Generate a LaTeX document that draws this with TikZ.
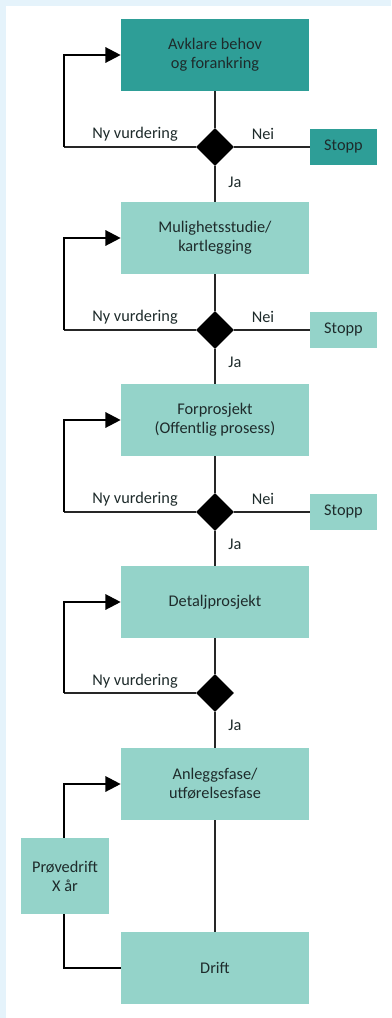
\documentclass[tikz,border=0pt]{standalone}
\usepackage{fontspec}
\setmainfont{Carlito}
\usepackage{xcolor}
\usetikzlibrary{arrows.meta,shapes.geometric}
\definecolor{fasDark}{HTML}{2E9E97}
\definecolor{fasLight}{HTML}{94D3C9}
\definecolor{fasInk}{HTML}{1E2B2B}
\definecolor{fasFrame}{HTML}{E5F3FB}
\tikzset{
    every picture/.style={font=\fontsize{11.6}{13.5}\selectfont},
    phase/.style={fill=fasLight, draw=none, align=center, text=fasInk, minimum width=4.7cm, minimum height=1.8cm, inner sep=0pt},
    phasetop/.style={phase, fill=fasDark},
    stopbox/.style={fill=fasLight, draw=none, text=fasInk, minimum width=1.675cm, minimum height=0.9cm, inner sep=0pt},
    stopboxtop/.style={stopbox, fill=fasDark},
    testbox/.style={fill=fasLight, draw=none, align=center, text=fasInk, minimum width=2.2cm, minimum height=1.9cm, inner sep=0pt},
    gate/.style={diamond, fill=black, draw=none, minimum width=0.95cm, minimum height=0.95cm, inner sep=0pt},
    lbl/.style={text=fasInk, inner sep=1pt},
    link/.style={line width=1pt, draw=black!85},
    loop/.style={line width=1.6pt, draw=black},
    looparrow/.style={loop, -{Triangle[length=0.38cm, width=0.38cm]}}
}
\begin{document}
\begin{tikzpicture}[x=0.025cm, y=-0.025cm]
\useasboundingbox (0,0) rectangle (391,1018);
\fill[white] (0,0) rectangle (391,1018);
\fill[fasFrame] (0,0) rectangle (391,6);
\fill[fasFrame] (0,0) rectangle (6,1018);

% phases
\node[phasetop] (avklar) at (215,55) {Avklare behov\\og forankring};
\node[phase] (studie) at (215,238) {Mulighetsstudie/\\kartlegging};
\node[phase] (forpro) at (215,420) {Forprosjekt\\(Offentlig prosess)};
\node[phase] (detalj) at (215,602) {Detaljprosjekt};
\node[phase] (anlegg) at (215,784) {Anleggsfase/\\utførelsesfase};
\node[phase] (drift) at (215,968) {Drift};
\node[testbox] (prove) at (65,876) {Prøvedrift\\X år};

% gates
\node[gate] (g1) at (215,147) {};
\node[gate] (g2) at (215,330) {};
\node[gate] (g3) at (215,512) {};
\node[gate] (g4) at (215,693) {};

% stop
\node[stopboxtop] (stopp1) at (343.5,147) {Stopp};
\node[stopbox] (stopp2) at (343.5,330) {Stopp};
\node[stopbox] (stopp3) at (343.5,512) {Stopp};

% main line
\draw[link] (avklar) -- (g1);
\draw[link] (g1) -- (studie);
\draw[link] (studie) -- (g2);
\draw[link] (g2) -- (forpro);
\draw[link] (forpro) -- (g3);
\draw[link] (g3) -- (detalj);
\draw[link] (detalj) -- (g4);
\draw[link] (g4) -- (anlegg);
\draw[link] (anlegg) -- (drift);

% no
\draw[link] (g1.east) -- (stopp1.west);
\draw[link] (g2.east) -- (stopp2.west);
\draw[link] (g3.east) -- (stopp3.west);

% new evaluation
\coordinate (r1) at (64,147);
\coordinate (r2) at (64,330);
\coordinate (r3) at (64,512);
\coordinate (r4) at (64,693);
\draw[link] (g1.west) -- (r1);
\draw[link] (g2.west) -- (r2);
\draw[link] (g3.west) -- (r3);
\draw[link] (g4.west) -- (r4);
\draw[looparrow] (r1) |- (avklar.west);
\draw[looparrow] (r2) |- (studie.west);
\draw[looparrow] (r3) |- (forpro.west);
\draw[looparrow] (r4) |- (detalj.west);

% trial operation
\coordinate (r5) at (64,968);
\draw[loop] (drift.west) -- (r5) -- (r5 |- prove.south);
\draw[looparrow] (r5 |- prove.north) |- (anlegg.west);

% labels
\node[lbl] (ny1) at (135,134) {Ny vurdering};
\node[lbl] (ny2) at (135,317) {Ny vurdering};
\node[lbl] (ny3) at (135,499) {Ny vurdering};
\node[lbl] (ny4) at (135,681) {Ny vurdering};
\node[lbl] (nei1) at (263,134) {Nei};
\node[lbl] (nei2) at (263,317) {Nei};
\node[lbl] (nei3) at (263,499) {Nei};
\node[lbl] (ja1) at (235,182) {Ja};
\node[lbl] (ja2) at (235,362) {Ja};
\node[lbl] (ja3) at (235,544) {Ja};
\node[lbl] (ja4) at (235,725) {Ja};
\end{tikzpicture}
\end{document}
